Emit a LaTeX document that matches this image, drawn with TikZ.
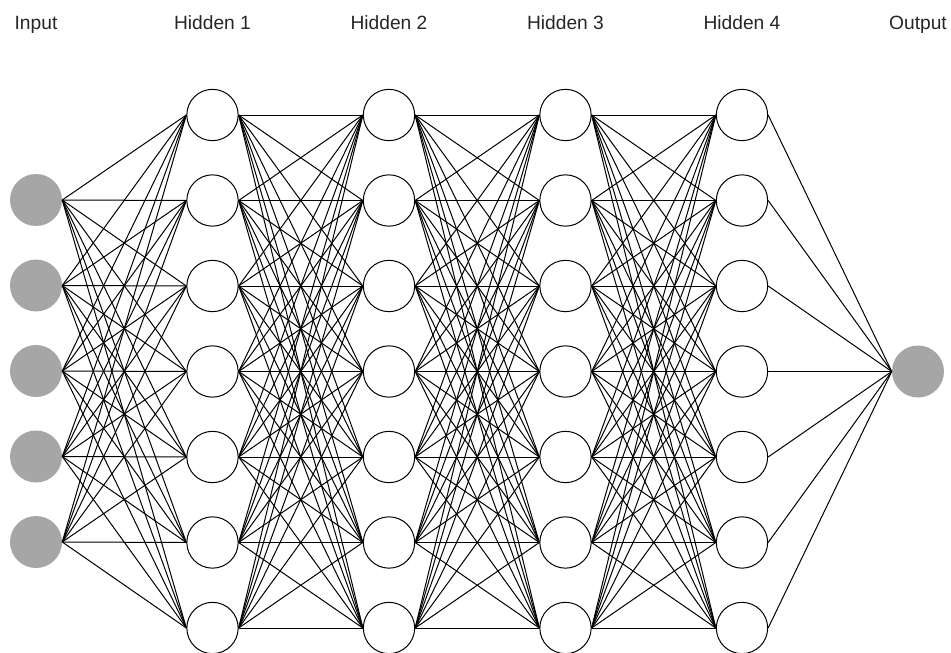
\documentclass[tikz,border=0pt]{standalone}
\usepackage{fontspec}
\setmainfont{Liberation Sans}
\definecolor{nodegray}{RGB}{166,166,166}
\begin{document}
\begin{tikzpicture}[x=0.75pt,y=-0.75pt,
  neuron/.style={circle,draw=black,line width=0.75pt,fill=white,minimum size=38.5pt,inner sep=0pt},
  ionode/.style={circle,fill=nodegray,draw=none,minimum size=39pt,inner sep=0pt},
  layerlabel/.style={font=\fontsize{14.4}{16}\selectfont,text=black!85,inner sep=0pt,anchor=base},
  conn/.style={line width=0.75pt,black}]
\useasboundingbox (0,0) rectangle (951,653);
% labels
\node[layerlabel] (lin) at (36,30) {Input};
\node[layerlabel] (lh1) at (212.5,30) {Hidden 1};
\node[layerlabel] (lh2) at (389,30) {Hidden 2};
\node[layerlabel] (lh3) at (565.5,30) {Hidden 3};
\node[layerlabel] (lh4) at (742,30) {Hidden 4};
\node[layerlabel] (lout) at (918,30) {Output};
% input nodes
\foreach \i in {1,...,5}
  \node[ionode] (in\i) at (36,{200+85.5*(\i-1)}) {};
% hidden layers
\foreach \l/\x in {1/212.5,2/389,3/565.5,4/742}
  \foreach \j in {1,...,7}
    \node[neuron] (h\l-\j) at (\x,{115+85.5*(\j-1)}) {};
\node[ionode] (out) at (918,371.5) {};
% connections
\foreach \i in {1,...,5}
  \foreach \j in {1,...,7}
    \draw[conn] (in\i.east) -- (h1-\j.west);
\foreach \l/\m in {1/2,2/3,3/4}
  \foreach \i in {1,...,7}
    \foreach \j in {1,...,7}
      \draw[conn] (h\l-\i.east) -- (h\m-\j.west);
\foreach \j in {1,...,7}
  \draw[conn] (h4-\j.east) -- (out.west);
\end{tikzpicture}
\end{document}
